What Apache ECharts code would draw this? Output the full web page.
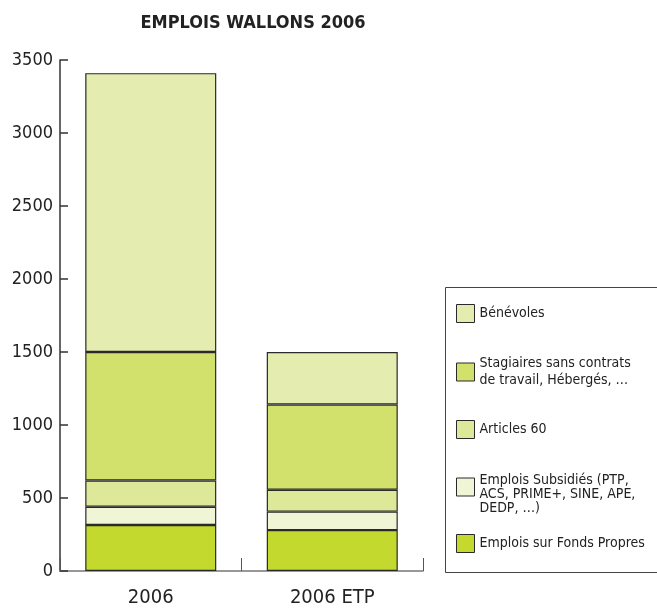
<!DOCTYPE html>
<html>
<head>
<meta charset="utf-8">
<script src="https://cdn.jsdelivr.net/npm/echarts@6/dist/echarts.min.js"></script>
<style>
html,body{margin:0;padding:0;background:#fff;}
#chart{width:657px;height:608px;}
</style>
</head>
<body>
<div id="chart"></div>
<script>
var categories = ['2006', '2006 ETP'];
var fondsPropres = [315, 280];
var subsidies = [125, 127];
var articles60 = [180, 150];
var stagiaires = [880, 583];
var benevoles = [1910, 360];
var yTicks = [0, 500, 1000, 1500, 2000, 2500, 3000, 3500];

var seriesNames = ['Emplois sur Fonds Propres', 'Emplois Subsidiés (PTP, ACS, PRIME+, SINE, APE, DEDP, …)', 'Articles 60', 'Stagiaires sans contrats de travail, Hébergés, …', 'Bénévoles'];
var seriesData = [fondsPropres, subsidies, articles60, stagiaires, benevoles];
var colors = ['#c4d92e', '#f0f5d6', '#dde899', '#d2e06c', '#e4edaf'];

var FONT = '"Liberation Sans Narrow", "DejaVu Sans Condensed", "Arial Narrow", sans-serif';

var chart = echarts.init(document.getElementById('chart'));

var series = seriesNames.map(function (n, i) {
  return {
    name: n,
    type: 'bar',
    stack: 'total',
    barWidth: 131,
    data: seriesData[i],
    itemStyle: { color: colors[i], borderColor: '#2a2a2a', borderWidth: 1.2 },
    emphasis: { disabled: true }
  };
});

function mkLegend(idx, top, fmt, extra) {
  var ts = { fontFamily: FONT, fontSize: 14, color: '#222', lineHeight: 17 };
  if (extra) { for (var k in extra) ts[k] = extra[k]; }
  return {
    data: [seriesNames[idx]],
    orient: 'vertical',
    left: 456,
    top: top,
    padding: 0,
    itemWidth: 18,
    itemHeight: 18,
    itemGap: 0,
    selectedMode: false,
    icon: 'rect',
    itemStyle: { borderColor: '#2a2a2a', borderWidth: 1 },
    textStyle: ts,
    formatter: function () { return fmt; }
  };
}

var richLine = { fontFamily: FONT, fontSize: 14, color: '#222', lineHeight: 14 };

var option = {
  animation: false,
  title: {
    text: 'EMPLOIS WALLONS 2006',
    left: 248,
    textAlign: 'center',
    top: 9,
    textStyle: { fontFamily: FONT, fontSize: 18, fontWeight: 'bold', color: '#222' }
  },
  grid: { left: 60, right: 234, top: 60, bottom: 37, containLabel: false },
  xAxis: {
    type: 'category',
    data: categories,
    axisLine: { lineStyle: { color: '#777', width: 1.5 } },
    axisTick: { show: true, inside: true, length: 13, alignWithLabel: false, lineStyle: { color: '#555', width: 1 } },
    axisLabel: { fontFamily: FONT, fontSize: 20, color: '#222', margin: 17 },
    splitLine: { show: false }
  },
  yAxis: {
    type: 'value',
    min: 0,
    max: 3500,
    interval: 500,
    axisLine: { show: true, lineStyle: { color: '#333', width: 1.5 } },
    axisTick: { show: true, inside: true, length: 8, lineStyle: { color: '#333', width: 1.5 } },
    axisLabel: {
      fontFamily: FONT, fontSize: 18, color: '#222', margin: 7,
      formatter: function (v) { return yTicks.indexOf(v) >= 0 ? String(v) : ''; }
    },
    splitLine: { show: false }
  },
  legend: [
    mkLegend(4, 304, 'Bénévoles'),
    mkLegend(3, 355, 'Stagiaires sans contrats\nde travail, Hébergés, …'),
    mkLegend(2, 420, 'Articles 60'),
    mkLegend(1, 459, '{s| }\n{t|Emplois Subsidiés (PTP,}\n{t|ACS, PRIME+, SINE, APE,}\n{t|DEDP, …)}',
      { lineHeight: 14, rich: { s: richLine, t: richLine } }),
    mkLegend(0, 534, 'Emplois sur Fonds Propres')
  ],
  graphic: [{
    type: 'rect',
    shape: { x: 445.5, y: 287.5, width: 220, height: 285 },
    style: { fill: 'none', stroke: '#444', lineWidth: 1 },
    silent: true
  }],
  series: series
};

chart.setOption(option);
</script>
</body>
</html>
